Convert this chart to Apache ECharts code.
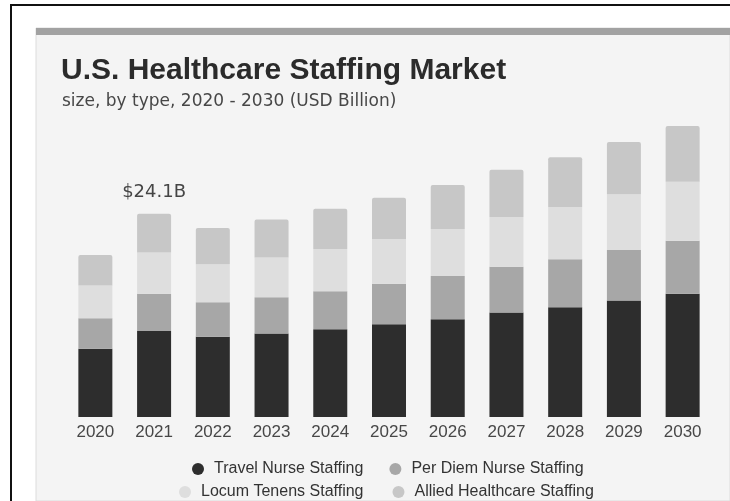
<!DOCTYPE html>
<html>
<head>
<meta charset="utf-8">
<title>U.S. Healthcare Staffing Market</title>
<script src="https://cdn.jsdelivr.net/npm/echarts@6/dist/echarts.min.js"></script>
<style>
  html, body { margin: 0; padding: 0; background: #ffffff; }
  #chart { width: 730px; height: 501px; }
</style>
</head>
<body>
<div id="chart"></div>
<script>
// Market size by staffing type, USD billion
const years = ['2020', '2021', '2022', '2023', '2024', '2025', '2026', '2027', '2028', '2029', '2030'];
const travelNurse = [8.1, 10.2, 9.5, 9.9, 10.4, 11.0, 11.6, 12.4, 13.0, 13.8, 14.6];
const perDiemNurse = [3.6, 4.4, 4.1, 4.3, 4.5, 4.8, 5.1, 5.4, 5.7, 6.0, 6.3];
const locumTenens = [3.9, 4.9, 4.5, 4.7, 5.0, 5.3, 5.6, 5.9, 6.2, 6.6, 7.0];
const alliedHealthcare = [3.6, 4.6, 4.3, 4.5, 4.8, 4.9, 5.2, 5.6, 5.9, 6.2, 6.6];
const seriesNames = ['Travel Nurse Staffing', 'Per Diem Nurse Staffing', 'Locum Tenens Staffing', 'Allied Healthcare Staffing'];
const labelledYear = '2021';

const totals = years.map((_, i) =>
  travelNurse[i] + perDiemNurse[i] + locumTenens[i] + alliedHealthcare[i]);

const colors = ['#2d2d2d', '#a7a7a7', '#dedede', '#c7c7c7'];
const textFont = '"Liberation Sans", Arial, sans-serif';
const wideFont = '"DejaVu Sans", Verdana, sans-serif';

const chart = echarts.init(document.getElementById('chart'), null, { renderer: 'canvas' });

const baseY = 417;          // baseline of the bars, px
const pxPerUnit = 8.436;    // vertical scale, px per billion
const yMax = 40;

function stackSeries(name, values, color, idx) {
  const s = {
    name: name,
    type: 'bar',
    stack: 'market',
    barWidth: 34,
    itemStyle: { color: color },
    emphasis: { disabled: true },
    data: values.slice()
  };
  if (idx === 3) {
    s.itemStyle.borderRadius = [2, 2, 0, 0];
    s.data = values.map((v, i) => years[i] === labelledYear ? {
      value: v,
      label: {
        show: true,
        position: 'top',
        distance: 12,
        formatter: () => '$' + totals[i].toFixed(1) + 'B',
        fontFamily: wideFont,
        fontSize: 18,
        color: '#454545'
      }
    } : v);
  }
  return s;
}

const option = {
  backgroundColor: '#ffffff',
  animation: false,
  graphic: [
    // outer frame lines
    { type: 'rect', z: 0, shape: { x: 10, y: 4, width: 720, height: 2 }, style: { fill: '#111111' } },
    { type: 'rect', z: 0, shape: { x: 10, y: 4, width: 2, height: 497 }, style: { fill: '#111111' } },
    // card panel
    { type: 'rect', z: 0, shape: { x: 36, y: 28, width: 694, height: 473 }, style: { fill: '#f4f4f4', stroke: '#dcdcdc', lineWidth: 1 } },
    { type: 'rect', z: 0, shape: { x: 36, y: 28, width: 694, height: 7 }, style: { fill: '#a2a2a2' } }
  ],
  title: [
    {
      text: 'U.S. Healthcare Staffing Market',
      left: 56,
      top: 51,
      textStyle: { fontFamily: textFont, fontWeight: 'bold', fontSize: 30, color: '#2b2b2b' }
    },
    {
      text: 'size, by type, 2020 - 2030 (USD Billion)',
      left: 57,
      top: 88,
      textStyle: { fontFamily: wideFont, fontWeight: 'normal', fontSize: 17, color: '#474747' }
    }
  ],
  legend: [
    {
      data: seriesNames.slice(0, 2),
      left: 187,
      top: 456,
      icon: 'circle',
      itemWidth: 22,
      itemHeight: 12,
      itemGap: 26,
      textStyle: { fontFamily: textFont, fontSize: 16, color: '#333333' }
    },
    {
      data: seriesNames.slice(2, 4),
      left: 174,
      top: 479,
      icon: 'circle',
      itemWidth: 22,
      itemHeight: 12,
      itemGap: 29,
      textStyle: { fontFamily: textFont, fontSize: 16, color: '#333333' }
    }
  ],
  grid: {
    left: 66,
    right: 18,
    bottom: 501 - baseY,
    height: yMax * pxPerUnit,
    containLabel: false
  },
  xAxis: {
    type: 'category',
    data: years,
    axisLine: { show: false },
    axisTick: { show: false },
    axisLabel: { fontFamily: textFont, fontSize: 17, color: '#474747', margin: 7 }
  },
  yAxis: {
    type: 'value',
    min: 0,
    max: yMax,
    show: false,
    splitLine: { show: false }
  },
  color: colors,
  series: [
    stackSeries(seriesNames[0], travelNurse, colors[0], 0),
    stackSeries(seriesNames[1], perDiemNurse, colors[1], 1),
    stackSeries(seriesNames[2], locumTenens, colors[2], 2),
    stackSeries(seriesNames[3], alliedHealthcare, colors[3], 3)
  ]
};

chart.setOption(option);
</script>
</body>
</html>
